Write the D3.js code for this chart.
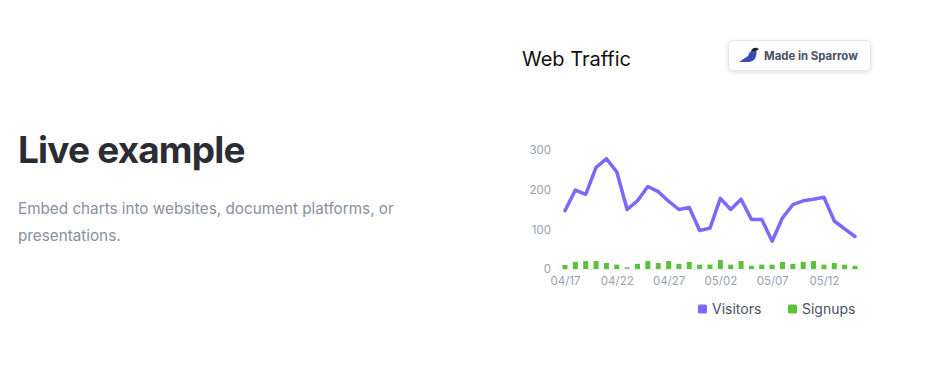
<!DOCTYPE html>
<html>
<head>
<meta charset="utf-8">
<script src="https://cdn.jsdelivr.net/npm/d3@7"></script>
<style>
  html, body { margin: 0; padding: 0; background: #ffffff; }
  svg { display: block; }
</style>
</head>
<body>
<svg id="chart" width="939" height="381"></svg>
<script>
// ---- data ----
const dates = ["04/17","04/18","04/19","04/20","04/21","04/22","04/23","04/24","04/25","04/26",
               "04/27","04/28","04/29","04/30","05/01","05/02","05/03","05/04","05/05","05/06",
               "05/07","05/08","05/09","05/10","05/11","05/12","05/13","05/14","05/15"];
const visitors = [147,199,188,256,278,245,150,172,208,195,171,150,155,97,103,178,150,176,125,125,70,129,162,172,176,181,121,101,82];
const signups  = [10,18,20,20,15,11,0,13,20,15,20,13,18,11,11,23,11,20,8,11,11,18,13,18,20,11,15,11,8];
const xTickLabels = ["04/17","04/22","04/27","05/02","05/07","05/12"];
const yTickValues = [0,100,200,300];
const seriesNames = ["Visitors","Signups"];
const seriesColors = ["#8066fb","#5ac13a"];

const svg = d3.select("#chart");

// helper: fit text to a target width by adjusting font size
function fitText(sel, width) {
  const node = sel.node();
  const w = node.getComputedTextLength();
  const fs = parseFloat(sel.attr("font-size"));
  sel.attr("font-size", (fs * width / w).toFixed(2));
}

// ---- left block ----
const h1 = svg.append("text").attr("x", 18).attr("y", 162.5)
  .attr("font-family", "Inter, 'Open Sans', sans-serif").attr("font-weight", 700)
  .attr("font-size", 38).attr("fill", "#2b2d35").attr("letter-spacing", -0.8)
  .text("Live example");
fitText(h1, 227);

const p1 = svg.append("text").attr("x", 18).attr("y", 213.5)
  .attr("font-family", "Inter, 'Open Sans', sans-serif").attr("font-weight", 400)
  .attr("font-size", 15).attr("fill", "#8790a3")
  .text("Embed charts into websites, document platforms, or");
fitText(p1, 376);
svg.append("text").attr("x", 18).attr("y", 240.5)
  .attr("font-family", "Inter, 'Open Sans', sans-serif").attr("font-weight", 400)
  .attr("font-size", p1.attr("font-size")).attr("fill", "#8790a3")
  .text("presentations.");

// ---- title ----
const title = svg.append("text").attr("x", 522).attr("y", 66)
  .attr("font-family", "Inter, 'Liberation Sans', sans-serif").attr("font-weight", 400)
  .attr("font-size", 19).attr("fill", "#111111")
  .text("Web Traffic");
fitText(title, 109);

// ---- badge ----
const defs = svg.append("defs");
const f = defs.append("filter").attr("id", "sh").attr("x", "-20%").attr("y", "-40%").attr("width", "140%").attr("height", "180%");
f.append("feDropShadow").attr("dx", 0).attr("dy", 1.5).attr("stdDeviation", 2).attr("flood-color", "#1a2050").attr("flood-opacity", 0.12);
const badge = svg.append("g");
badge.append("rect").attr("x", 728.5).attr("y", 40.5).attr("width", 142).attr("height", 30).attr("rx", 4)
  .attr("fill", "#ffffff").attr("stroke", "#e3e6ef").attr("filter", "url(#sh)");
// bird icon
badge.append("path")
  .attr("d", "M739,62 L748,56 C749,53 751,50 754,50 C757,50 757,53 756,56 C755,60 752,62 747,62 Z")
  .attr("fill", "#3c4bb3");
badge.append("path")
  .attr("d", "M751,51 C752,48 755,47 757,48 L759,49 L756,51 Z")
  .attr("fill", "#1c1f2e");
const bt = badge.append("text").attr("x", 764).attr("y", 59.5)
  .attr("font-family", "Inter, 'Open Sans', sans-serif").attr("font-weight", 700)
  .attr("font-size", 11).attr("fill", "#4b5163")
  .text("Made in Sparrow");
fitText(bt, 94);

// ---- scales ----
const x = d3.scalePoint().domain(dates).range([565, 855]);
const y = d3.scaleLinear().domain([0, 300]).range([269, 150]);

// baseline
svg.append("line").attr("x1", 558).attr("x2", 862).attr("y1", 269.5).attr("y2", 269.5)
  .attr("stroke", "#eceef3").attr("stroke-width", 1);

// y axis
const yAxis = svg.append("g").attr("transform", "translate(551,0)")
  .call(d3.axisLeft(y).tickValues(yTickValues).tickSize(0).tickPadding(0));
yAxis.select(".domain").remove();
yAxis.selectAll("text").attr("font-family", "Inter, 'Liberation Sans', sans-serif")
  .attr("font-size", 11.5).attr("fill", "#99a0b1");

// x axis
const xAxis = svg.append("g").attr("transform", "translate(0,274)")
  .call(d3.axisBottom(x).tickValues(xTickLabels).tickSize(0).tickPadding(3));
xAxis.select(".domain").remove();
xAxis.selectAll("text").attr("font-family", "Inter, 'Liberation Sans', sans-serif")
  .attr("font-size", 11.5).attr("fill", "#99a0b1");

// bars
const bw = 5;
svg.append("g").selectAll("rect").data(signups).join("rect")
  .attr("x", (d, i) => x(dates[i]) - bw / 2)
  .attr("width", bw)
  .attr("y", d => d > 0 ? y(d) : y(0) - 2)
  .attr("height", d => d > 0 ? y(0) - y(d) : 2)
  .attr("fill", d => d > 0 ? seriesColors[1] : "#a9aebc");

// line
const line = d3.line().x((d, i) => x(dates[i])).y(d => y(d));
svg.append("path").datum(visitors)
  .attr("d", line).attr("fill", "none")
  .attr("stroke", seriesColors[0]).attr("stroke-width", 3.5)
  .attr("stroke-linejoin", "round").attr("stroke-linecap", "round");

// legend
const legendX = [698, 788];
const lg = svg.append("g").selectAll("g").data(seriesNames).join("g")
  .attr("transform", (d, i) => `translate(${legendX[i]},309)`);
lg.append("rect").attr("x", 0).attr("y", -4.5).attr("width", 9).attr("height", 9).attr("rx", 1.5)
  .attr("fill", (d, i) => seriesColors[i]);
lg.append("text").attr("x", 14).attr("y", 5)
  .attr("font-family", "Inter, 'Open Sans', sans-serif").attr("font-size", 14)
  .attr("fill", "#4c5263").text(d => d);
</script>
</body>
</html>
